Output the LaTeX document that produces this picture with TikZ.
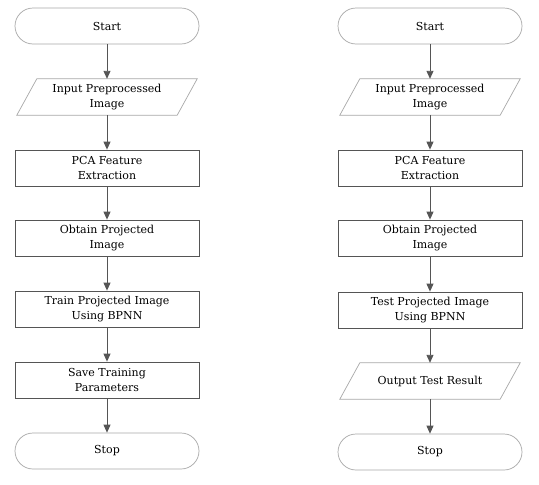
\documentclass[tikz,border=0pt]{standalone}
\usepackage{fontspec}
\setmainfont{DejaVu Serif}
\usetikzlibrary{arrows.meta}
\definecolor{lineg}{HTML}{555555}
\definecolor{lightg}{HTML}{A8A8A8}
\begin{document}
\begin{tikzpicture}[x=1pt,y=-1pt,
  base/.style={minimum width=184pt,minimum height=36pt,align=center,inner sep=2pt,
    font=\fontsize{11}{14.5}\selectfont,text=black},
  term/.style={base,draw=lightg,rounded corners=18pt,line width=0.7pt},
  proc/.style={base,draw=lineg,line width=0.8pt},
  iohide/.style={base,minimum width=180pt},
  iobox/.style={draw=lightg,line width=0.7pt},
  flow/.style={draw=lineg,line width=0.9pt,-{Triangle[length=8pt,width=7pt]}}]
\useasboundingbox (0,0) rectangle (539,485);
\fill[white] (0,0) rectangle (539,485);
% left column
\node[term] (ls) at (107,26) {Start};
\node[iohide] (li) at (107,97) {Input Preprocessed\\Image};
\node[proc] (lp) at (107,168) {PCA Feature\\Extraction};
\node[proc] (lo) at (107,238) {Obtain Projected\\Image};
\node[proc] (lt) at (107,309) {Train Projected Image\\Using BPNN};
\node[proc] (lv) at (107,380) {Save Training\\Parameters};
\node[term] (le) at (107,451) {Stop};
% right column
\node[term] (rs) at (430,26) {Start};
\node[iohide] (ri) at (430,97) {Input Preprocessed\\Image};
\node[proc] (rp) at (430,168) {PCA Feature\\Extraction};
\node[proc] (ro) at (430,238) {Obtain Projected\\Image};
\node[proc] (rt) at (430,310) {Test Projected Image\\Using BPNN};
\node[iohide] (rr) at (430,381) {Output Test Result};
\node[term] (re) at (430,452) {Stop};
% parallelograms
\foreach \n in {li,ri,rr}{
  \draw[iobox] ([xshift=20pt]\n.north west) -- (\n.north east) -- ([xshift=-20pt]\n.south east) -- (\n.south west) -- cycle;
}
% connectors
\foreach \a/\b in {ls/li,li/lp,lp/lo,lo/lt,lt/lv,lv/le,rs/ri,ri/rp,rp/ro,ro/rt,rt/rr,rr/re}{
  \draw[flow] (\a.south) -- (\b.north);
}
\end{tikzpicture}
\end{document}
